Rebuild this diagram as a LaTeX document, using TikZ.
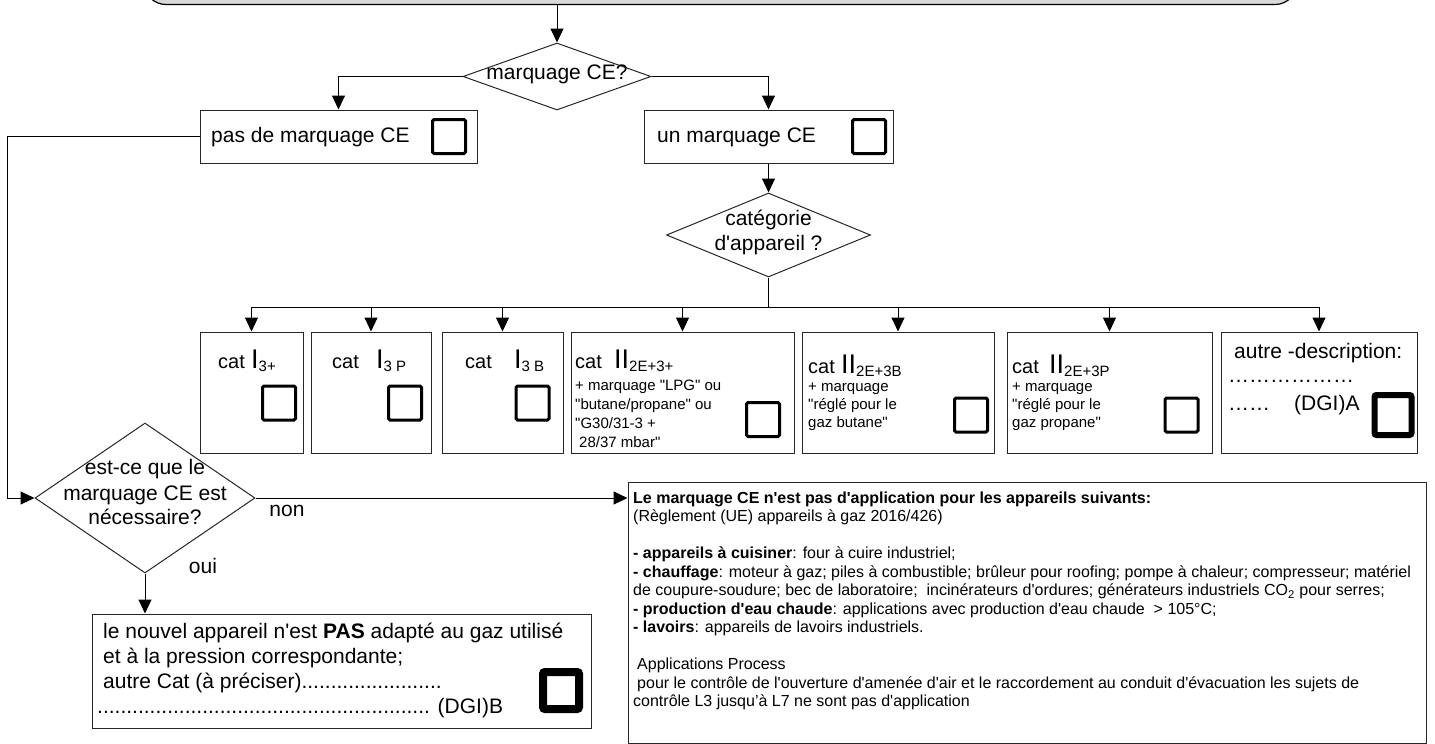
\documentclass[tikz,border=0pt]{standalone}
\usepackage{fontspec}
\setmainfont{Liberation Sans}[Ligatures=TeXOff]
\usetikzlibrary{arrows.meta,shapes.geometric}
\definecolor{topgray}{RGB}{217,217,217}
\newcommand{\fsz}[1]{\fontsize{#1}{#1}\selectfont}
\newcommand{\catsub}[2]{{\fsz{27}#1}\raisebox{-3pt}{\fsz{15}#2}}
\begin{document}
\begin{tikzpicture}[x=1pt,y=-1pt,
  box/.style={draw=black!85, line width=1pt, rectangle, inner sep=0pt},
  dia/.style={draw=black!85, line width=1pt, diamond, inner sep=0pt},
  chk/.style={draw=black, line width=3pt, rectangle, rounded corners=1.5pt, inner sep=0pt, minimum width=33pt, minimum height=34pt},
  conn/.style={draw=black, line width=1pt},
  arr/.style={conn, -{Triangle[width=13pt,length=14pt]}},
  lbl/.style={font=\fsz{21}, inner sep=0pt, anchor=mid},
  txt/.style={font=\fsz{21}, inner sep=0pt, anchor=base west},
  cattxt/.style={font=\fsz{20}, inner sep=0pt, anchor=base west},
  sm/.style={font=\fsz{15}, inner sep=0pt, anchor=base west},
  info/.style={font=\fsz{16}, inner sep=0pt, anchor=base west},
]
\useasboundingbox (0,0) rectangle (1435,744);
\clip (0,0) rectangle (1435,744);

% top banner
\node[draw=black, line width=1.2pt, fill=topgray, rounded corners=22pt, minimum width=1153pt, minimum height=80pt, inner sep=0pt] (topbox) at (720.5,-35.5) {};

% decision 1
\node[dia, minimum width=188pt, minimum height=67pt] (d1) at (557,76.5) {};
\node[lbl] (d1t) at (557,77) {marquage CE?};

% B1
\node[box, minimum width=277pt, minimum height=53pt] (b1) at (338.5,136.5) {};
\node[txt] (b1t) at (211,142) {pas de marquage CE};
\node[chk] (b1c) at (449,136.5) {};

% B2
\node[box, minimum width=249pt, minimum height=53pt] (b2) at (768.5,136.5) {};
\node[txt] (b2t) at (657,142) {un marquage CE};
\node[chk] (b2c) at (869,136.5) {};

% decision 2
\node[dia, minimum width=204pt, minimum height=84pt] (d2) at (768.5,235) {};
\node[lbl] (d2a) at (768.5,223) {catégorie};
\node[lbl] (d2b) at (768.5,248) {d'appareil ?};

\coordinate (bus) at (768.5,307);

% category boxes
\node[box, minimum width=103pt, minimum height=121pt] (c1) at (251.5,392.5) {};
\node[box, minimum width=120pt, minimum height=121pt] (c2) at (371,392.5) {};
\node[box, minimum width=121pt, minimum height=121pt] (c3) at (502.5,392.5) {};
\node[box, minimum width=223pt, minimum height=121pt] (c4) at (682.5,392.5) {};
\node[box, minimum width=192pt, minimum height=121pt] (c5) at (898,392.5) {};
\node[box, minimum width=205pt, minimum height=121pt] (c6) at (1109.5,392.5) {};
\node[box, minimum width=196pt, minimum height=121pt] (c7) at (1319,392.5) {};

% C1
\node[cattxt] (c1t) at (218,368) {cat};
\node[cattxt] (c1i) at (251,368) {\catsub{I}{3+}};
\node[chk] (c1c) at (279,403) {};
% C2
\node[cattxt] (c2t) at (332,368) {cat};
\node[cattxt] (c2i) at (376,368) {\catsub{I}{3 P}};
\node[chk] (c2c) at (405,403) {};
% C3
\node[cattxt] (c3t) at (465,368) {cat};
\node[cattxt] (c3i) at (514,368) {\catsub{I}{3 B}};
\node[chk] (c3c) at (532.5,403) {};
% C4
\node[cattxt] (c4t) at (575,368) {cat};
\node[cattxt] (c4i) at (614,368) {\catsub{II}{2E+3+}};
\node[sm] (c4l1) at (575,390) {+ marquage "LPG" ou};
\node[sm] (c4l2) at (575,409) {"butane/propane" ou};
\node[sm] (c4l3) at (575,428) {"G30/31-3 +};
\node[sm] (c4l4) at (575,447) {\hspace{4pt}28/37 mbar"};
\node[chk] (c4c) at (763,419.5) {};
% C5
\node[cattxt] (c5t) at (808,373) {cat};
\node[cattxt] (c5i) at (841,373) {\catsub{II}{2E+3B}};
\node[sm] (c5l1) at (808,391) {+ marquage};
\node[sm] (c5l2) at (808,409) {"réglé pour le};
\node[sm] (c5l3) at (808,427) {gaz butane"};
\node[chk] (c5c) at (971,415) {};
% C6
\node[cattxt] (c6t) at (1012,373) {cat};
\node[cattxt] (c6i) at (1049,373) {\catsub{II}{2E+3P}};
\node[sm] (c6l1) at (1012,391) {+ marquage};
\node[sm] (c6l2) at (1012,409) {"réglé pour le};
\node[sm] (c6l3) at (1012,427) {gaz propane"};
\node[chk] (c6c) at (1181.5,415) {};
% C7
\node[txt] (c7t) at (1234,358) {autre -description:};
\node[txt] (c7d1) at (1228,382) {………………};
\node[txt] (c7d2) at (1228,410) {……};
\node[txt] (c7d3) at (1294,410) {(DGI)A};
\node[chk, line width=6pt, minimum width=37pt, minimum height=40pt, rounded corners=2pt] (c7c) at (1393,415) {};

% decision 3
\node[dia, minimum width=220pt, minimum height=150pt] (d3) at (145,498) {};
\node[lbl] (d3a) at (145,472) {est-ce que le};
\node[lbl] (d3b) at (145,498) {marquage CE est};
\node[lbl] (d3c) at (145,522) {nécessaire?};
\node[lbl] (non) at (287,514) {non};
\node[lbl] (oui) at (203,571) {oui};

% DGI B box
\node[box, minimum width=499pt, minimum height=114pt] (dgib) at (341.5,671) {};
\node[txt] (g1) at (103,638) {le nouvel appareil n'est \textbf{PAS} adapté au gaz utilisé};
\node[txt] (g2) at (103,663) {et à la pression correspondante;};
\node[txt] (g3) at (103,688.5) {autre Cat (à préciser)........................};
\node[txt] (g4) at (97,713) {......................................................... (DGI)B};
\node[chk, line width=8pt, minimum width=36pt, minimum height=37pt, rounded corners=2pt] (dgic) at (561,690.5) {};

% big info box
\node[box, minimum width=798pt, minimum height=261pt] (bigbox) at (1027,612.5) {};
\node[info] (k0) at (633,503) {\textbf{Le marquage CE n'est pas d'application pour les appareils suivants:}};
\node[info] (k1) at (633,521.5) {(Règlement (UE) appareils à gaz 2016/426)};
\node[info] (k3) at (633,558.5) {\textbf{- appareils à cuisiner}: four à cuire industriel;};
\node[info] (k4) at (633,577) {\textbf{- chauffage}: moteur à gaz; piles à combustible; brûleur pour roofing; pompe à chaleur; compresseur; matériel};
\node[info] (k5) at (633,595.5) {de coupure-soudure; bec de laboratoire;\ \ incinérateurs d'ordures; générateurs industriels CO\textsubscript{2} pour serres;};
\node[info] (k6) at (633,614) {\textbf{- production d'eau chaude}: applications avec production d'eau chaude\ \ > 105°C;};
\node[info] (k7) at (633,632.5) {\textbf{- lavoirs}: appareils de lavoirs industriels.};
\node[info] (k9) at (637,669.5) {Applications Process};
\node[info] (k10) at (637,688) {pour le contrôle de l'ouverture d'amenée d'air et le raccordement au conduit d'évacuation les sujets de};
\node[info] (k11) at (633,706.5) {contrôle L3 jusqu’à L7 ne sont pas d'application};

% connectors
\draw[arr] (d1.north |- topbox.south) -- (d1.north);
\draw[arr] (d1.west) -| (b1.north);
\draw[arr] (d1.east) -| (b2.north);
\draw[arr] (b2.south) -- (d2.north);
\draw[conn] (d2.south) -- (bus);
\draw[conn] (bus -| c1.north) -- (bus -| c7.north);
\draw[arr] (bus -| c1.north) -- (c1.north);
\draw[arr] (bus -| c2.north) -- (c2.north);
\draw[arr] (bus -| c3.north) -- (c3.north);
\draw[arr] (bus -| c4.north) -- (c4.north);
\draw[arr] (bus -| c5.north) -- (c5.north);
\draw[arr] (bus -| c6.north) -- (c6.north);
\draw[arr] (bus -| c7.north) -- (c7.north);
\coordinate (lft) at (7,136.5);
\draw[arr] (b1.west) -- (lft) |- (d3.west);
\draw[arr] (d3.east) -- (d3.east -| bigbox.west);
\draw[arr] (d3.south) -- (d3.south |- dgib.north);
\end{tikzpicture}
\end{document}
